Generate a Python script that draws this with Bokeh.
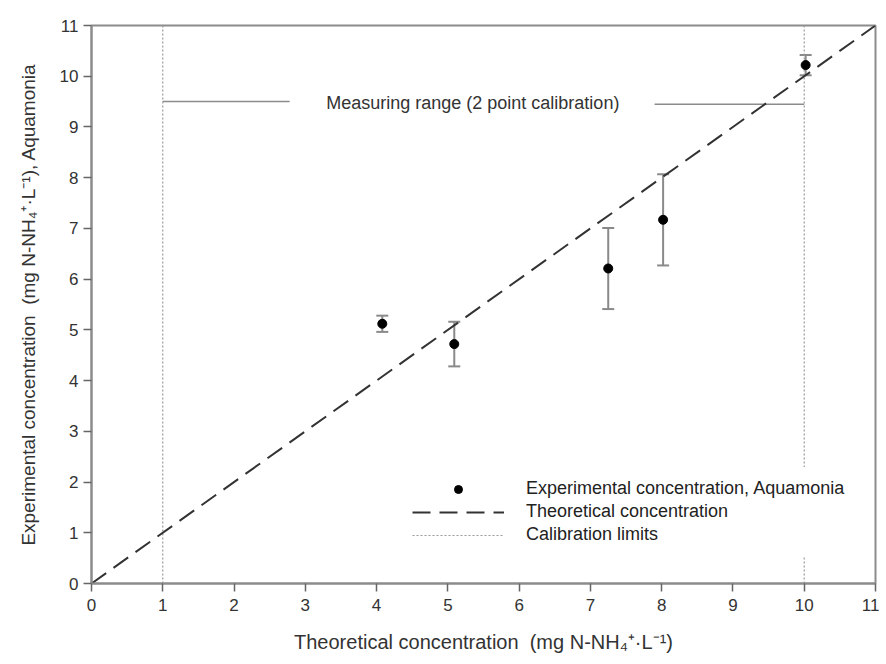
from bokeh.plotting import figure
from bokeh.models import (ColumnDataSource, Whisker, TeeHead, Legend, LegendItem,
                          Label, FixedTicker, Range1d)
from bokeh.embed import file_html
from bokeh.resources import INLINE

# ---- data ----
theoretical = [4.08, 5.09, 7.25, 8.02, 10.02]
experimental = [5.12, 4.72, 6.21, 7.17, 10.22]
err = [0.16, 0.44, 0.80, 0.90, 0.20]

diag_x = [0, 11]
diag_y = [0, 11]

calib_limits = [1, 10]
range_left_x = [1.0, 2.78]
range_left_y = [9.5, 9.5]
range_right_x = [7.9, 10.0]
range_right_y = [9.45, 9.45]
range_text = "Measuring range (2 point calibration)"
range_text_x = 5.35
range_text_y = 9.48

ticks = list(range(0, 12))

FONT = "Liberation Sans"

p = figure(width=879, height=658, output_backend="svg", toolbar_location=None,
           x_range=Range1d(0, 11), y_range=Range1d(0, 11),
           min_border_left=91, min_border_right=4, min_border_top=25, min_border_bottom=75)
p.grid.visible = False
p.outline_line_color = "#8c8c8c"
p.outline_line_width = 2
p.background_fill_color = "white"
p.border_fill_color = "white"

for ax in (p.xaxis[0], p.yaxis[0]):
    ax.ticker = FixedTicker(ticks=ticks)
    ax.minor_tick_line_color = None
    ax.major_tick_out = 8
    ax.major_tick_in = 0
    ax.major_tick_line_color = "#666666"
    ax.major_tick_line_width = 1.5
    ax.axis_line_color = "#8c8c8c"
    ax.axis_line_width = 2
    ax.major_label_text_font = FONT
    ax.major_label_text_font_size = "17px"
    ax.major_label_text_color = "#333333"
    ax.axis_label_text_font = FONT
    ax.axis_label_text_font_style = "normal"
    ax.axis_label_text_color = "#333333"

p.xaxis[0].major_label_standoff = 7
p.yaxis[0].major_label_standoff = 5
p.xaxis[0].axis_label_text_font_size = "20px"
p.yaxis[0].axis_label_text_font_size = "19px"
p.xaxis[0].axis_label_standoff = 17
p.yaxis[0].axis_label_standoff = 18

p.xaxis[0].axis_label = "Theoretical concentration \u00a0(mg N-NH\u2084\u207a\u00b7L\u207b\u00b9)"
p.yaxis[0].axis_label = "Experimental concentration \u00a0(mg N-NH\u2084\u207a\u00b7L\u207b\u00b9), Aquamonia"

# calibration limits (dotted)
r_cal = None
for xv in calib_limits:
    r_cal = p.line([xv, xv], [0, 11], line_color="#999999", line_width=1.2, line_dash="2 2")

# measuring range annotation
p.line(range_left_x, range_left_y, line_color="#8c8c8c", line_width=1.5)
p.line(range_right_x, range_right_y, line_color="#8c8c8c", line_width=1.5)
p.add_layout(Label(x=range_text_x, y=range_text_y, text=range_text,
                   text_font=FONT, text_font_size="18px", text_color="#333333",
                   text_align="center", text_baseline="middle"))

# theoretical line (dashed)
r_diag = p.line(diag_x, diag_y, line_color="#333333", line_width=2, line_dash="18 9")

# error bars
src = ColumnDataSource(dict(x=theoretical, y=experimental,
                            lo=[y - e for y, e in zip(experimental, err)],
                            hi=[y + e for y, e in zip(experimental, err)]))
wcol = "#8a8a8a"
w = Whisker(base="x", lower="lo", upper="hi", source=src,
            line_color=wcol, line_width=2,
            lower_head=TeeHead(size=12, line_color=wcol, line_width=2),
            upper_head=TeeHead(size=12, line_color=wcol, line_width=2))
p.add_layout(w)

r_pts = p.scatter("x", "y", source=src, size=9, color="black")

legend = Legend(items=[
    LegendItem(label="Experimental concentration, Aquamonia", renderers=[r_pts]),
    LegendItem(label="Theoretical concentration", renderers=[r_diag]),
    LegendItem(label="Calibration limits", renderers=[r_cal]),
], location=(311, 27))
legend.glyph_width = 92
legend.glyph_height = 20
legend.label_standoff = 22
legend.label_height = 23
legend.spacing = 0
legend.padding = 10
legend.margin = 0
legend.border_line_alpha = 0
legend.background_fill_alpha = 1
legend.label_text_font = FONT
legend.label_text_font_size = "18px"
legend.label_text_color = "#222222"
p.add_layout(legend)

open("out.html", "w").write(file_html(p, INLINE))
